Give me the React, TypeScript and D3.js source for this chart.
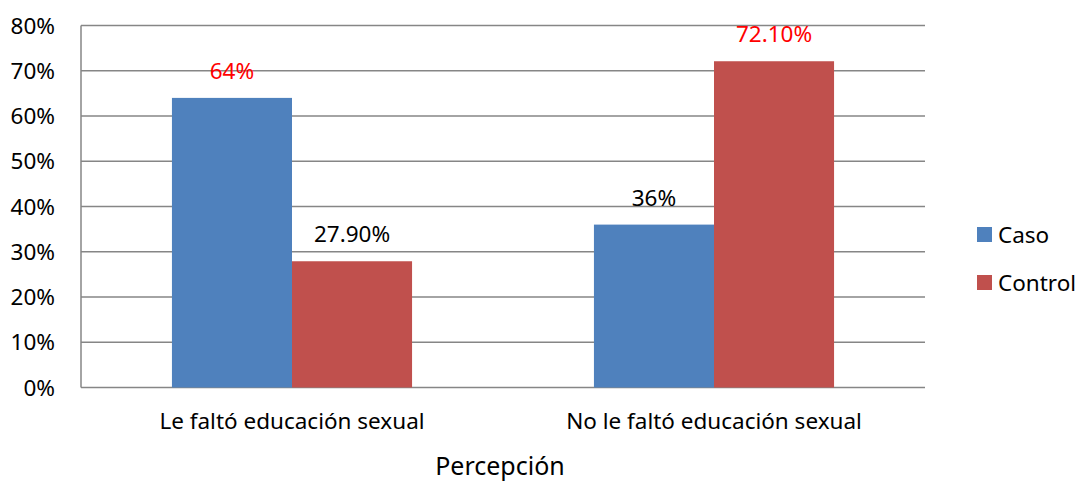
import React from "react";
import * as d3 from "d3";

const categories = ["Le faltó educación sexual", "No le faltó educación sexual"];
const series = ["Caso", "Control"];
const casoValues = [0.64, 0.36];
const controlValues = [0.279, 0.721];
const labelsCaso = ["64%", "36%"];
const labelsControl = ["27.90%", "72.10%"];
const labelColorsCaso = ["#FF0000", "#000000"];
const labelColorsControl = ["#000000", "#FF0000"];
const yTicks = [0, 0.1, 0.2, 0.3, 0.4, 0.5, 0.6, 0.7, 0.8];
const colors = ["#4F81BD", "#C0504D"];

export default function App() {
  const W = 1083, H = 481;
  const left = 81, right = 925, top = 25.5, bottom = 387.5;
  const font = "Noto Sans, sans-serif";
  const fs = 22.5;
  const x0 = d3.scaleBand().domain(categories).range([left, right]).paddingInner(0.431).paddingOuter(0.2155);
  const x1 = d3.scaleBand().domain(series).range([0, x0.bandwidth()]);
  const y = d3.scaleLinear().domain([0, 0.8]).range([bottom, top]);
  const vals = [casoValues, controlValues];
  const labs = [labelsCaso, labelsControl];
  const labCols = [labelColorsCaso, labelColorsControl];
  return (
    <svg width={W} height={H} style={{ position: "absolute", left: 0, top: 0 }}>
      <rect width={W} height={H} fill="#fff" />
      {yTicks.map((t) => (
        <g key={t}>
          <line x1={left} x2={right} y1={y(t)} y2={y(t)} stroke="#868686" strokeWidth={1.5} />
          <text x={55} y={y(t) + 8} textAnchor="end" fontFamily={font} fontSize={fs} fill="#000">
            {Math.round(t * 100) + "%"}
          </text>
        </g>
      ))}
      <line x1={left} x2={left} y1={top} y2={bottom} stroke="#868686" strokeWidth={1.5} />
      {series.map((s, si) =>
        categories.map((c, ci) => {
          const bx = (x0(c) as number) + (x1(s) as number);
          const bw = x1.bandwidth();
          const v = vals[si][ci];
          return (
            <g key={s + c}>
              <rect x={bx} y={y(v)} width={bw} height={bottom - y(v)} fill={colors[si]} />
              <text x={bx + bw / 2} y={y(v) - 19} textAnchor="middle" fontFamily={font} fontSize={fs} fill={labCols[si][ci]}>
                {labs[si][ci]}
              </text>
            </g>
          );
        })
      )}
      {categories.map((c) => (
        <text key={c} x={(x0(c) as number) + x0.bandwidth() / 2} y={429} textAnchor="middle" fontFamily={font} fontSize={fs} fill="#000">
          {c}
        </text>
      ))}
      <text x={500} y={475} textAnchor="middle" fontFamily={font} fontSize={25} fill="#000">Percepción</text>
      {series.map((s, i) => (
        <g key={s}>
          <rect x={977} y={227 + i * 48} width={15} height={15} fill={colors[i]} />
          <text x={998} y={243 + i * 48} fontFamily={font} fontSize={fs} fill="#000">{s}</text>
        </g>
      ))}
    </svg>
  );
}
